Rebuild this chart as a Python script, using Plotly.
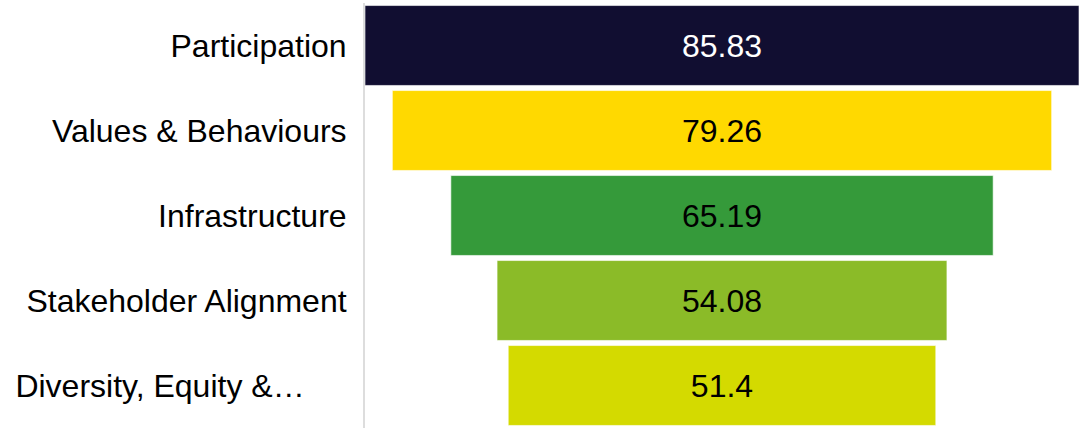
import plotly.graph_objects as go

categories = ["Participation", "Values & Behaviours", "Infrastructure",
              "Stakeholder Alignment", "Diversity, Equity &…"]
values = [85.83, 79.26, 65.19, 54.08, 51.4]
tick_labels = ["Participation", "Values & Behaviours", "Infrastructure",
               "Stakeholder Alignment", "Diversity, Equity &…\u00a0\u00a0\u00a0\u00a0\u2009"]
colors = ["#110E31", "#FFD900", "#359A3A", "#8BBB28", "#D4DA00"]
text_colors = ["#FFFFFF", "#000000", "#000000", "#000000", "#000000"]

FONT = "Liberation Sans, Arial, sans-serif"

fig = go.Figure(go.Funnel(
    y=categories,
    x=values,
    textinfo="value",
    textposition="inside",
    insidetextanchor="middle",
    textfont=dict(family=FONT, size=32, color=text_colors),
    marker=dict(color=colors, line=dict(color="rgba(255,255,255,0.6)", width=1)),
    connector=dict(visible=False),
    hoverinfo="y+x",
))

half = max(values) / 2
fig.update_layout(
    width=1084, height=428,
    margin=dict(l=365, r=5, t=3, b=0),
    paper_bgcolor="white", plot_bgcolor="white",
    funnelgap=0.06,
    showlegend=False,
    xaxis=dict(range=[-half, half], visible=False, fixedrange=True),
    yaxis=dict(
        tickvals=categories, ticktext=tick_labels,
        tickfont=dict(family=FONT, size=32, color="#000000"),
        showline=True, linecolor="#DDDDDD", linewidth=2,
        ticks="", ticklen=0, automargin=False,
        ticklabelstandoff=10,
        showgrid=False,
    ),
)

fig.write_html("out.html", config={"displayModeBar": False},
               post_script="document.body.style.margin='0';document.body.style.overflow='hidden';")
